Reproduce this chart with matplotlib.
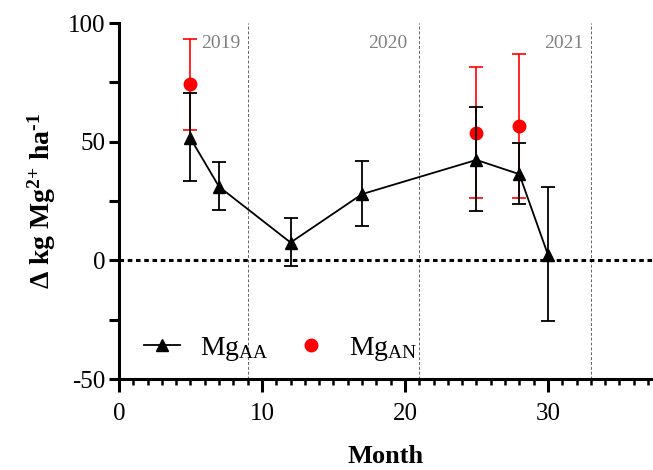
import matplotlib
matplotlib.use("Agg")
import matplotlib.pyplot as plt
from matplotlib.ticker import MultipleLocator

plt.rcParams['font.family'] = ['Liberation Serif', 'DejaVu Serif']
plt.rcParams['mathtext.fontset'] = 'custom'
plt.rcParams['mathtext.rm'] = 'Liberation Serif'
plt.rcParams['mathtext.it'] = 'Liberation Serif:italic'
plt.rcParams['mathtext.bf'] = 'Liberation Serif:bold'
plt.rcParams['axes.unicode_minus'] = False

# Data
aa_month = [5, 7, 12, 17, 25, 28, 30]
aa_value = [51.4, 31.0, 7.5, 27.9, 42.3, 36.3, 2.4]
aa_upper = [70.4, 41.3, 18.0, 41.7, 64.4, 49.3, 31.1]
aa_lower = [33.5, 21.1, -2.5, 14.4, 20.6, 23.8, -25.6]

an_month = [5, 25, 28]
an_value = [74.2, 53.8, 56.5]
an_upper = [93.4, 81.5, 86.8]
an_lower = [55.1, 26.1, 26.3]

year_lines = [9, 21, 33]
year_labels = ['2019', '2020', '2021']
year_label_x = [7.1, 18.8, 31.1]

fig = plt.figure(figsize=(6.53, 4.70), dpi=100)
ax = fig.add_axes([119/653, 91/470, 1 - 119/653, 356/470])

for xl in year_lines:
    ax.axvline(xl, color='#666666', linestyle=(0, (3, 2)), linewidth=0.7, zorder=1)
for xt, lab in zip(year_label_x, year_labels):
    ax.text(xt, 91.5, lab, color='#808080', fontsize=14, ha='center', va='center')

ax.axhline(0, color='black', linestyle=(0, (1.5, 1.2)), linewidth=2.2, zorder=2)

an_err = [[v - l for v, l in zip(an_value, an_lower)], [u - v for v, u in zip(an_value, an_upper)]]
ax.errorbar(an_month, an_value, yerr=an_err, fmt='o', color='red', ecolor='red',
            markersize=9, elinewidth=1.2, capsize=5, capthick=1.2, zorder=3, label='Mg$_{\\mathrm{AN}}$')

aa_err = [[v - l for v, l in zip(aa_value, aa_lower)], [u - v for v, u in zip(aa_value, aa_upper)]]
ax.errorbar(aa_month, aa_value, yerr=aa_err, fmt='-^', color='black', ecolor='black',
            markersize=9, linewidth=1.3, elinewidth=1.3, capsize=5, capthick=1.3, zorder=4,
            label='Mg$_{\\mathrm{AA}}$')

ax.set_xlim(0, 37.35)
ax.set_ylim(-50, 100)
ax.xaxis.set_major_locator(MultipleLocator(10))
ax.xaxis.set_minor_locator(MultipleLocator(1))
ax.yaxis.set_major_locator(MultipleLocator(50))
ax.yaxis.set_minor_locator(MultipleLocator(25))

for s in ['top', 'right']:
    ax.spines[s].set_visible(False)
for s in ['left', 'bottom']:
    ax.spines[s].set_linewidth(2.2)

ax.tick_params(axis='x', which='major', direction='out', length=9, width=2.2, labelsize=18, pad=8)
ax.tick_params(axis='x', which='minor', direction='out', length=4, width=1.8)
ax.tick_params(axis='y', which='both', direction='out', length=7, width=2.2, labelsize=18, pad=3)

ax.set_xlabel('Month', fontsize=19, fontweight='bold', labelpad=15)
ax.set_ylabel('Δ kg Mg$^{\\mathbf{2{+}}}$ ha$^{\\mathbf{\u2010 1}}$', fontsize=20, fontweight='bold', labelpad=7)

handles, labels = ax.get_legend_handles_labels()
handles = [h[0] if hasattr(h, '__getitem__') else h for h in handles]
leg = ax.legend([handles[1], handles[0]], [labels[1], labels[0]], ncol=2, frameon=False,
                loc='lower left', bbox_to_anchor=(0.0, -0.025), fontsize=20,
                handlelength=1.3, columnspacing=0.9, handletextpad=0.7)

fig.savefig('out.png', dpi=100)
